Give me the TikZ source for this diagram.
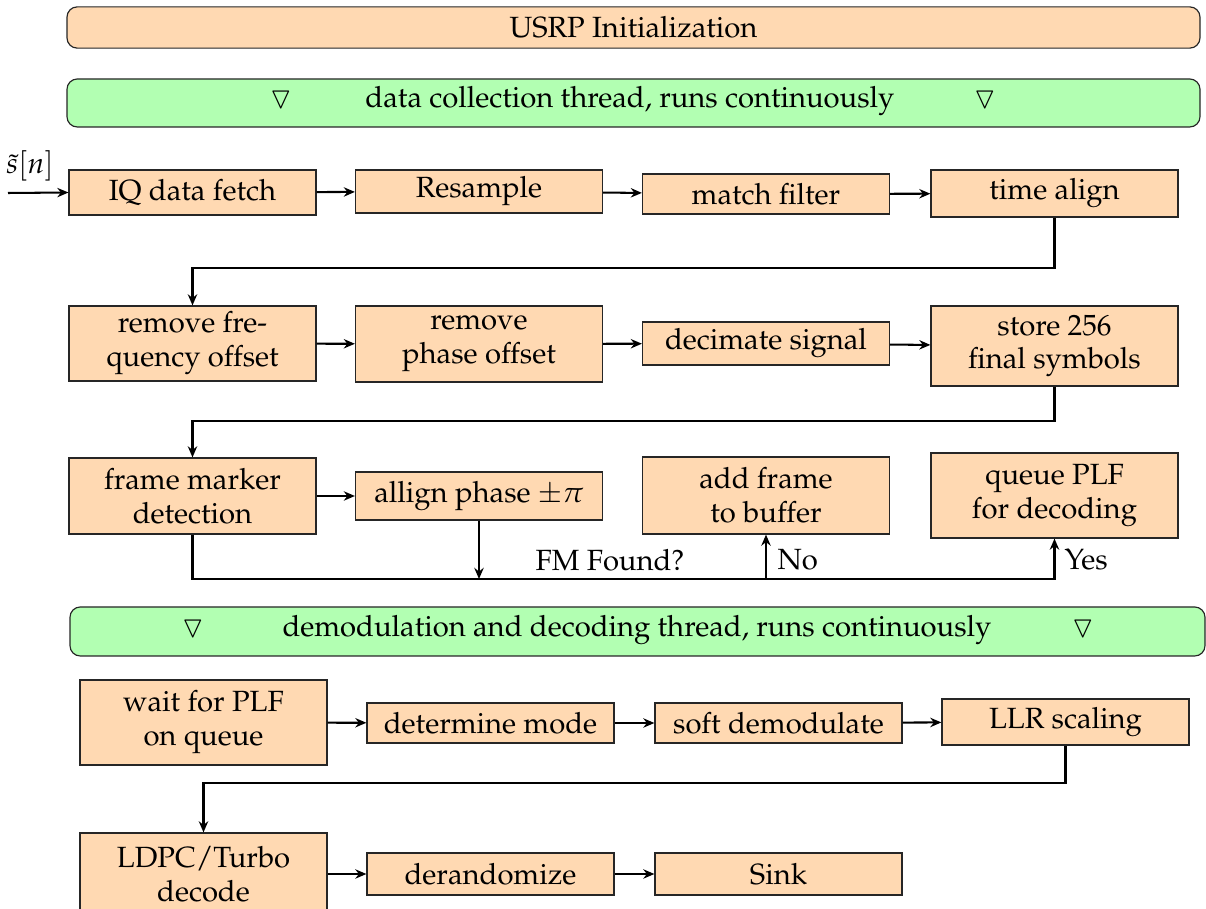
\documentclass[tikz,border=0pt]{standalone}
\usepackage[T1]{fontenc}
\usepackage{mathpazo}
\usepackage{amssymb}
\usetikzlibrary{arrows.meta}
\definecolor{boxfill}{rgb}{1,0.85,0.7}
\definecolor{thrfill}{rgb}{0.7,1,0.7}
\def\pxu{0.342pt}
\tikzset{
  blk/.style={draw=black!85, fill=boxfill, minimum width=247*\pxu, align=center, inner sep=1pt, font=\fontsize{10}{11.6}\selectfont},
  thr/.style={draw=black!85, fill=thrfill, rounded corners=3.5pt, minimum width=1133*\pxu, font=\fontsize{10}{12}\selectfont},
  lbl/.style={inner sep=0pt, font=\fontsize{10}{12}\selectfont},
  con/.style={line width=0.7pt, -{Stealth[length=3.8pt,width=3.2pt]}},
  ln/.style={line width=0.7pt},
}
\begin{document}
\begin{tikzpicture}[x=0.342pt, y=-0.342pt]
\useasboundingbox (0,0) rectangle (1206,909);
% thread banners
\node[thr, minimum height=39*\pxu, draw=black!85, fill=boxfill] (usrp) at (633.5,27.5) {USRP Initialization};
\node[thr, minimum height=48*\pxu] (thr1) at (633.5,103) {};
\node[lbl] (t1txt) at (630,101) {data collection thread, runs continuously};
\node[lbl] (t1a) at (281,100) {$\triangledown$};
\node[lbl] (t1b) at (985,100) {$\triangledown$};
% row 1
\node[blk, minimum height=45*\pxu] (iq) at (192.5,192.5) {IQ data fetch};
\node[blk, minimum height=43*\pxu] (res) at (479,191.5) {Resample};
\node[blk, minimum height=40*\pxu] (mf) at (766,194) {match filter};
\node[blk, minimum height=47*\pxu] (ta) at (1054.5,193.5) {time align};
\coordinate (in) at (8,193);
\node[lbl] (sn) at (30,166) {$\tilde{s}[n]$};
\draw[con] (in) -- (iq.west);
\draw[con] (iq) -- (res);
\draw[con] (res) -- (mf);
\draw[con] (mf) -- (ta);
% row 2
\node[blk, minimum height=75*\pxu] (rfo) at (192.5,343.5) {remove fre-\\quency offset};
\node[blk, minimum height=76*\pxu] (rpo) at (479,344) {remove\\phase offset};
\node[blk, minimum height=43*\pxu] (dec) at (766,343.5) {decimate signal};
\node[blk, minimum height=80*\pxu] (st) at (1054.5,346) {store 256\\final symbols};
\coordinate (r1) at (0,268);
\draw[con] (ta.south) -- (ta.south |- r1) -| (rfo.north);
\draw[con] (rfo) -- (rpo);
\draw[con] (rpo) -- (dec);
\draw[con] (dec) -- (st);
% row 3
\node[blk, minimum height=76*\pxu] (fmd) at (192.5,496) {frame marker\\detection};
\node[blk, minimum height=48*\pxu] (ap) at (479,496) {allign phase $\pm\pi$};
\node[blk, minimum height=77*\pxu] (af) at (766,495.5) {add frame\\to buffer};
\node[blk, minimum height=85*\pxu] (q) at (1054.5,495.5) {queue PLF\\for decoding};
\coordinate (r2) at (0,421);
\draw[con] (st.south) -- (st.south |- r2) -| (fmd.north);
\draw[con] (fmd.east |- ap.west) -- (ap.west);
\coordinate (bl) at (0,579);
\draw[con] (fmd.south) |- (q.south |- bl) -- (q.south);
\draw[con] (ap.south) -- (ap.south |- bl);
\draw[con] (af.south |- bl) -- (af.south);
\node[lbl] (fmq) at (610,560) {FM Found?};
\node[lbl, anchor=west] (no) at (777,560) {No};
\node[lbl, anchor=west] (yes) at (1064,560) {Yes};
% thread 2
\node[thr, minimum width=1135*\pxu, minimum height=49*\pxu] (thr2) at (637.5,631.5) {};
\node[lbl] (t2txt) at (637,630) {demodulation and decoding thread, runs continuously};
\node[lbl] (t2a) at (193,629) {$\triangledown$};
\node[lbl] (t2b) at (1083,629) {$\triangledown$};
% row 4
\node[blk, minimum height=85*\pxu] (wait) at (203.5,722.5) {wait for PLF\\on queue};
\node[blk, minimum height=40*\pxu] (dm) at (490.5,723) {determine mode};
\node[blk, minimum height=40*\pxu] (sd) at (778.5,723) {soft demodulate};
\node[blk, minimum height=46*\pxu] (llr) at (1065.5,722) {LLR scaling};
\draw[con] (wait) -- (dm);
\draw[con] (dm) -- (sd);
\draw[con] (sd) -- (llr);
% row 5
\node[blk, minimum height=82*\pxu] (ldpc) at (203.5,874) {LDPC/Turbo\\decode};
\node[blk, minimum height=42*\pxu] (der) at (490.5,874) {derandomize};
\node[blk, minimum height=42*\pxu] (sink) at (778.5,874) {Sink};
\coordinate (r3) at (0,783);
\draw[con] (llr.south) -- (llr.south |- r3) -| (ldpc.north);
\draw[con] (ldpc) -- (der);
\draw[con] (der) -- (sink);
\end{tikzpicture}
\end{document}
